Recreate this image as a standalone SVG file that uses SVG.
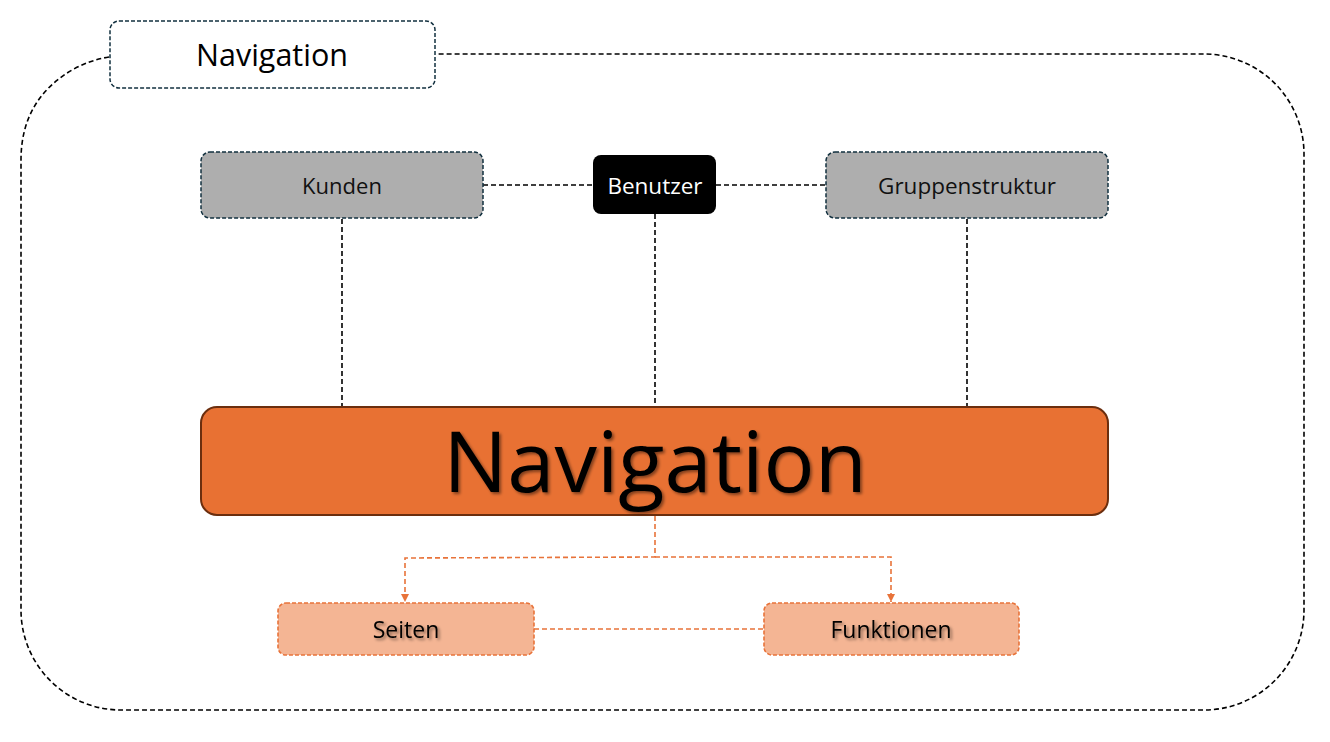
<svg xmlns="http://www.w3.org/2000/svg" width="1330" height="742" viewBox="0 0 1330 742">
<defs>
<style>
text{font-family:"Open Sans","Liberation Sans",sans-serif;text-anchor:middle;dominant-baseline:central}
.frame{fill:none;stroke:#000;stroke-width:1.6;stroke-dasharray:5 3}
.gray{fill:#aeaeae;stroke:#12303f;stroke-width:1.5;stroke-dasharray:4 2}
.lbl{fill:#fff;stroke:#12303f;stroke-width:1.5;stroke-dasharray:4 2}
.peach{fill:#f4b594;stroke:#e8733a;stroke-width:1.6;stroke-dasharray:4 2}
.blk{stroke:#000;stroke-width:1.6;stroke-dasharray:5 3;fill:none}
.org{stroke:#e8733a;stroke-width:1.6;stroke-dasharray:5 3;fill:none}
</style>
<marker id="ah" viewBox="0 0 10 10" refX="10" refY="5" markerWidth="8" markerHeight="8" orient="auto" markerUnits="userSpaceOnUse">
<path d="M0,0 L10,5 L0,10 z" fill="#e8733a"/>
</marker>
<filter id="sh" x="-10%" y="-10%" width="120%" height="130%">
<feDropShadow dx="2" dy="2" stdDeviation="1.5" flood-color="#000" flood-opacity="0.45"/>
</filter>
</defs>
<g id="frame">
<path class="frame" d="M109,57 Q90,60 72,70 Q21,100 21,160 L21,610 A100,100 0 0 0 121,710 L1204,710 A100,100 0 0 0 1304,610 L1304,154 A100,100 0 0 0 1204,54 L436,54"/>
</g>
<g id="connectors">
<line class="blk" x1="483" y1="185" x2="593" y2="185"/>
<line class="blk" x1="716" y1="185" x2="826" y2="185"/>
<line class="blk" x1="342" y1="219" x2="342" y2="407"/>
<line class="blk" x1="655" y1="214" x2="655" y2="407"/>
<line class="blk" x1="967" y1="219" x2="967" y2="407"/>
<path class="org" d="M655,516 L655,557 L405,558 L405,602" marker-end="url(#ah)"/>
<path class="org" d="M655,557 L891,557 L891,602" marker-end="url(#ah)"/>
<line class="org" x1="534" y1="629" x2="764" y2="629"/>
</g>
<g id="label">
<rect class="lbl" x="110" y="21" width="325" height="67" rx="9"/>
<text x="272" y="54" font-size="30.5" fill="#000">Navigation</text>
</g>
<g id="kunden">
<rect class="gray" x="201" y="152" width="282" height="66" rx="9"/>
<text x="342" y="185" font-size="22" fill="#111">Kunden</text>
</g>
<g id="benutzer">
<rect x="593" y="155" width="123" height="59" rx="8" fill="#000"/>
<text x="655" y="185" font-size="22.5" fill="#fff">Benutzer</text>
</g>
<g id="gruppenstruktur">
<rect class="gray" x="826" y="152" width="282" height="66" rx="9"/>
<text x="967" y="185" font-size="22.5" fill="#111">Gruppenstruktur</text>
</g>
<g id="navigation">
<rect x="201" y="407" width="907" height="108" rx="16" fill="#e87133" stroke="#6b2e0e" stroke-width="2"/>
<text x="655" y="459" font-size="85" fill="#000" filter="url(#sh)">Navigation</text>
</g>
<g id="seiten">
<rect class="peach" x="278" y="603" width="256" height="52" rx="8"/>
<text x="406" y="629" font-size="23" fill="#000" filter="url(#sh)">Seiten</text>
</g>
<g id="funktionen">
<rect class="peach" x="764" y="603" width="255" height="52" rx="8"/>
<text x="891" y="629" font-size="23" fill="#000" filter="url(#sh)">Funktionen</text>
</g>
</svg>
